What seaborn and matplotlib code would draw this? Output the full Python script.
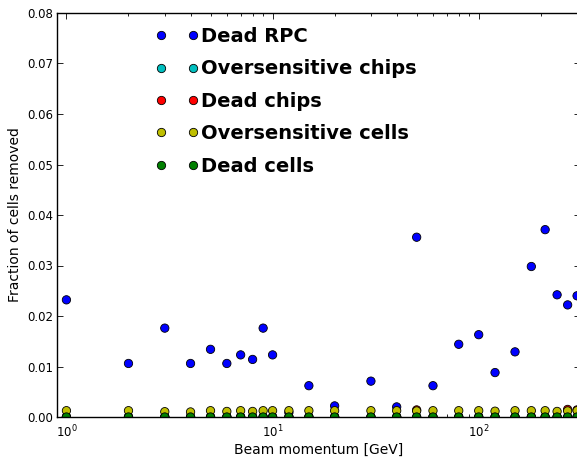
import numpy as np
import pandas as pd
import matplotlib
matplotlib.use("Agg")
import matplotlib.pyplot as plt
from matplotlib.lines import Line2D
from matplotlib.ticker import FormatStrFormatter, LogLocator
import seaborn as sns

# Beam momenta of the runs [GeV]
momentum = [1, 2, 3, 4, 5, 6, 7, 8, 9, 10, 12, 15, 20, 30, 40, 50, 60,
            80, 100, 120, 150, 180, 210, 240, 270, 300]

# Fraction of cells removed, per cause
dead_rpc = [0.0232, 0.0106, 0.0176, 0.0106, 0.0134, 0.0106, 0.0123, 0.0114,
            0.0176, 0.0123, 0.0009, 0.0062, 0.0022, 0.0071, 0.0020, 0.0356,
            0.0062, 0.0144, 0.0163, 0.0088, 0.0129, 0.0298, 0.0371, 0.0242,
            0.0222, 0.0240]
oversensitive_chips = [0.0] * 26
dead_chips = [0.0, 0.0, 0.0, 0.0, 0.0, 0.0, 0.0, 0.0, 0.0, 0.0, 0.0, 0.0,
              0.0, 0.0, 0.0, 0.0014, 0.0, 0.0, 0.0, 0.0, 0.0, 0.0, 0.0, 0.0,
              0.0015, 0.0014]
oversensitive_cells = [0.00125, 0.00125, 0.00105, 0.0010, 0.00125, 0.0011,
                       0.00125, 0.0011, 0.00125, 0.00125, 0.00125, 0.00125,
                       0.00125, 0.00125, 0.00125, 0.0012, 0.00125, 0.00125,
                       0.00125, 0.00115, 0.00125, 0.00125, 0.00125, 0.0011,
                       0.0012, 0.00125]
dead_cells = [0.0] * 26

series_names = ["Dead RPC", "Oversensitive chips", "Dead chips",
                "Oversensitive cells", "Dead cells"]
series_values = [dead_rpc, oversensitive_chips, dead_chips,
                 oversensitive_cells, dead_cells]
series_colors = [(0, 0, 1), (0, 0.75, 0.75), (1, 0, 0),
                 (0.75, 0.75, 0), (0, 0.5, 0)]

frames = [pd.DataFrame({"momentum": momentum, "fraction": vals, "cause": name})
          for name, vals in zip(series_names, series_values)]
df = pd.concat(frames, ignore_index=True)

sns.set_style("ticks")
plt.rcParams["font.family"] = ["DejaVu Sans"]
plt.rcParams.update({"text.color": "black", "axes.labelcolor": "black",
                     "xtick.color": "black", "ytick.color": "black",
                     "axes.edgecolor": "black"})

W, H = 577, 458
fig = plt.figure(figsize=(W / 100, H / 100), dpi=100)
left, right, top, bottom = 57, 580, 13, 417
ax = fig.add_axes([left / W, (H - bottom) / H, (right - left) / W, (bottom - top) / H])

sns.scatterplot(data=df, x="momentum", y="fraction", hue="cause",
                hue_order=series_names, palette=series_colors,
                s=36, edgecolor="black", linewidth=0.6, legend=False, ax=ax)

ax.set_xscale("log")
ax.set_xlim(0.9, 310)
ax.set_ylim(0.0, 0.08)
ax.set_yticks(np.arange(0, 0.081, 0.01))
ax.yaxis.set_major_formatter(FormatStrFormatter("%.2f"))
ax.xaxis.set_major_locator(LogLocator(base=10))
ax.xaxis.set_minor_locator(LogLocator(base=10, subs=np.arange(2, 10)))

for s in ax.spines.values():
    s.set_visible(True)
    s.set_linewidth(1.0)
    s.set_color("black")

ax.tick_params(which="both", direction="in", top=True, right=True,
               labelsize=8.5, colors="black")
ax.tick_params(which="major", length=4, width=0.6)
ax.tick_params(which="minor", length=2, width=0.6)
ax.tick_params(axis="y", which="major", pad=2.5)
ax.tick_params(axis="x", which="major", pad=5)

ax.set_xlabel("Beam momentum [GeV]", fontsize=10, labelpad=1.5)
ax.set_ylabel("Fraction of cells removed", fontsize=10, labelpad=4)

handles = [Line2D([], [], linestyle="none", marker="o", markersize=6,
                  markerfacecolor=c, markeredgecolor="black",
                  markeredgewidth=0.6)
           for c in series_colors]
fs = 14
leg = ax.legend(handles, series_names, numpoints=2, frameon=False,
                loc="upper left", bbox_to_anchor=(155 / W, 1 - 27 / H),
                bbox_transform=fig.transFigure, borderpad=0, borderaxespad=0,
                handlelength=2.23, handletextpad=0.15, labelspacing=0.69,
                prop={"size": fs, "weight": "bold"})
for t in leg.get_texts():
    t.set_color("black")

fig.savefig("out.png", dpi=100)
